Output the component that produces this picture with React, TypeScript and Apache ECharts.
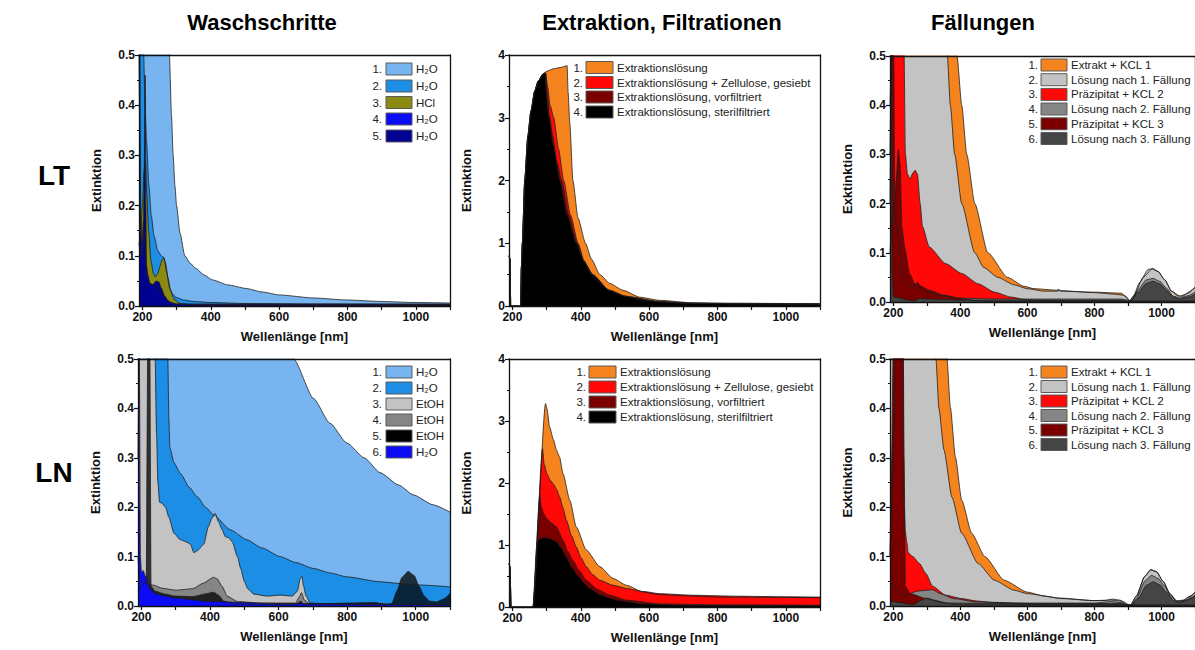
import React, { useEffect, useRef } from "react";
import * as echarts from "echarts";

type Pt = [number, number];

const FONT = '"Liberation Sans", Arial, Helvetica, sans-serif';

// ---------- axes ----------
const X_MIN = 190;
const X_MAX = 1100;
const X_LABELS = [200, 400, 600, 800, 1000];
const X_TICKS = [200, 300, 400, 500, 600, 700, 800, 900, 1000, 1100];

const COLUMN_TITLES = ["Waschschritte", "Extraktion, Filtrationen", "Fällungen"];
const ROW_LABELS = ["LT", "LN"];

// ---------- legend texts ----------
const LEG_LT_WASCH = ["H₂O", "H₂O", "HCl", "H₂O", "H₂O"];
const LEG_EXTR = [
  "Extraktionslösung",
  "Extraktionslösung + Zellulose, gesiebt",
  "Extraktionslösung, vorfiltriert",
  "Extraktionslösung, sterilfiltriert",
];
const LEG_FAELL = [
  "Extrakt + KCL 1",
  "Lösung nach 1. Fällung",
  "Präzipitat + KCL 2",
  "Lösung nach 2. Fällung",
  "Präzipitat + KCL 3",
  "Lösung nach 3. Fällung",
];
const LEG_LN_WASCH = ["H₂O", "H₂O", "EtOH", "EtOH", "EtOH", "H₂O"];

// ---------- data: LT Waschschritte ----------
const ltWasch1: Pt[] = [[190, 0.9], [200, 1.5], [250, 1.2], [272, 0.7], [279, 0.5], [285, 0.38], [290, 0.3], [295, 0.24], [300, 0.2], [310, 0.145], [324, 0.1], [340, 0.085], [356, 0.075], [380, 0.062], [405, 0.052], [450, 0.042], [503, 0.035], [550, 0.028], [601, 0.022], [700, 0.016], [797, 0.012], [900, 0.009], [992, 0.007], [1100, 0.006]];
const ltWasch2: Pt[] = [[190, 0.7], [196, 0.6], [203, 0.52], [207, 0.42], [212, 0.33], [219, 0.24], [226, 0.18], [234, 0.14], [245, 0.11], [255, 0.1], [263, 0.097], [270, 0.07], [280, 0.035], [290, 0.022], [300, 0.017], [320, 0.012], [350, 0.009], [400, 0.007], [500, 0.005], [700, 0.004], [1100, 0.003]];
const ltWasch3: Pt[] = [[190, 0.12], [195, 0.15], [200, 0.2], [205, 0.27], [209, 0.287], [213, 0.22], [218, 0.15], [225, 0.09], [232, 0.065], [238, 0.058], [245, 0.065], [252, 0.08], [258, 0.093], [263, 0.095], [268, 0.085], [275, 0.055], [283, 0.03], [290, 0.017], [297, 0.011], [310, 0.005], [350, 0.002], [1100, 0.001]];
const ltWasch4: Pt[] = [[190, 0.5], [194, 0.2], [198, 0.12], [203, 0.17], [207, 0.12], [212, 0.065], [220, 0.045], [240, 0.04], [260, 0.022], [280, 0.008], [300, 0.004], [1100, 0.003]];
const ltWasch5: Pt[] = [[190, 0.6], [192, 0.55], [195, 0.15], [199, 0.1], [203, 0.13], [206, 0.3], [208, 0.46], [210, 0.2], [212, 0.08], [216, 0.062], [222, 0.045], [230, 0.042], [240, 0.05], [248, 0.048], [256, 0.035], [265, 0.02], [275, 0.01], [290, 0.004], [350, 0.003], [1100, 0.004]];

// ---------- data: LT Extraktion ----------
const ltExtr1: Pt[] = [[190, 0.8], [193, 0.75], [195, 0], [224, 0], [226, 0.6], [229, 1.0], [236, 2.0], [245, 2.7], [254, 3.1], [265, 3.42], [275, 3.58], [290, 3.7], [300, 3.74], [320, 3.78], [340, 3.8], [360, 3.83], [363, 3.4], [368, 2.9], [377, 2.0], [392, 1.4], [414, 1.0], [431, 0.75], [456, 0.5], [485, 0.36], [524, 0.25], [573, 0.14], [631, 0.09], [729, 0.05], [850, 0.045], [1000, 0.04], [1100, 0.04]];
const ltExtr2: Pt[] = [[190, 0.8], [193, 0.75], [195, 0], [224, 0], [226, 0.6], [229, 1.0], [236, 2.0], [245, 2.7], [254, 3.1], [265, 3.42], [275, 3.58], [290, 3.7], [297, 3.72], [303, 3.5], [310, 3.2], [321, 3.0], [335, 2.5], [350, 2.0], [370, 1.45], [392, 1.0], [410, 0.72], [431, 0.5], [455, 0.35], [485, 0.25], [530, 0.16], [573, 0.1], [650, 0.055], [800, 0.038], [1100, 0.032]];
const ltExtr3: Pt[] = [[190, 0.8], [193, 0.75], [195, 0], [224, 0], [226, 0.6], [229, 1.0], [236, 2.0], [245, 2.7], [254, 3.1], [265, 3.42], [275, 3.58], [290, 3.7], [297, 3.71], [302, 3.4], [308, 3.05], [318, 2.7], [330, 2.3], [344, 2.0], [365, 1.45], [390, 1.0], [408, 0.72], [433, 0.5], [483, 0.25], [531, 0.155], [627, 0.075], [723, 0.045], [900, 0.036], [1100, 0.031]];
const ltExtr4: Pt[] = [[190, 0.8], [193, 0.75], [195, 0], [224, 0], [226, 0.6], [229, 1.0], [236, 2.0], [245, 2.7], [254, 3.1], [265, 3.42], [275, 3.58], [290, 3.7], [296, 3.7], [300, 3.3], [307, 3.0], [320, 2.55], [339, 2.0], [360, 1.45], [387, 1.0], [410, 0.7], [436, 0.5], [483, 0.25], [531, 0.15], [627, 0.07], [723, 0.04], [900, 0.033], [1100, 0.03]];

// ---------- data: LT Fällungen ----------
const ltFaell1: Pt[] = [[190, 0.6], [380, 0.6], [390, 0.5], [404, 0.4], [419, 0.3], [443, 0.2], [482, 0.1], [541, 0.05], [590, 0.032], [620, 0.027], [690, 0.024], [700, 0.022], [800, 0.02], [880, 0.018], [893, 0.012], [905, 0.003], [920, 0.015], [945, 0.05], [972, 0.067], [990, 0.062], [1010, 0.045], [1030, 0.022], [1055, 0.012], [1080, 0.018], [1100, 0.03]];
const ltFaell2: Pt[] = [[190, 0.4], [200, 0.6], [355, 0.6], [361, 0.5], [370, 0.4], [383, 0.3], [404, 0.2], [443, 0.1], [470, 0.07], [512, 0.05], [560, 0.035], [600, 0.027], [650, 0.022], [690, 0.022], [692, 0.026], [700, 0.023], [800, 0.019], [860, 0.016], [885, 0.014], [893, 0.01], [906, 0.002], [915, 0.01], [935, 0.04], [960, 0.066], [975, 0.068], [990, 0.062], [1010, 0.045], [1030, 0.022], [1050, 0.012], [1065, 0.012], [1080, 0.02], [1100, 0.03]];
const ltFaell3: Pt[] = [[190, 0.2], [195, 0.6], [231, 0.55], [236, 0.3], [242, 0.26], [250, 0.25], [258, 0.262], [265, 0.268], [272, 0.26], [280, 0.2], [287, 0.153], [307, 0.112], [356, 0.078], [404, 0.058], [453, 0.037], [502, 0.02], [551, 0.01], [600, 0.004], [700, 0.002], [1100, 0.002]];
const ltFaell4: Pt[] = [[190, 0.1], [200, 0.2], [210, 0.15], [230, 0.04], [250, 0.03], [265, 0.035], [275, 0.03], [300, 0.02], [350, 0.012], [400, 0.008], [500, 0.006], [700, 0.006], [880, 0.006], [900, 0.004], [910, 0.002], [930, 0.025], [955, 0.045], [975, 0.048], [995, 0.042], [1015, 0.028], [1035, 0.012], [1055, 0.008], [1080, 0.013], [1100, 0.02]];
const ltFaell5: Pt[] = [[190, 0.3], [195, 0.55], [201, 0.55], [204, 0.2], [209, 0.25], [215, 0.31], [220, 0.28], [226, 0.15], [234, 0.11], [248, 0.058], [265, 0.036], [272, 0.04], [280, 0.033], [307, 0.024], [350, 0.014], [400, 0.007], [450, 0.003], [500, 0.001], [1100, 0.001]];
const ltFaell6: Pt[] = [[190, 0.6], [194, 0.55], [197, 0.05], [200, 0.01], [260, 0.002], [280, 0.007], [300, 0.006], [400, 0.004], [880, 0.004], [905, 0.001], [930, 0.02], [955, 0.038], [975, 0.042], [995, 0.037], [1015, 0.024], [1035, 0.01], [1055, 0.006], [1080, 0.01], [1100, 0.016]];

// ---------- data: LN Waschschritte ----------
const lnWasch1: Pt[] = [[190, 2.0], [400, 1.0], [500, 0.75], [580, 0.6], [644, 0.5], [702, 0.42], [750, 0.37], [799, 0.33], [850, 0.3], [896, 0.27], [950, 0.245], [993, 0.225], [1050, 0.205], [1100, 0.19]];
const lnWasch2: Pt[] = [[190, 1.2], [270, 0.8], [277, 0.5], [280, 0.38], [283, 0.32], [295, 0.29], [314, 0.268], [340, 0.24], [363, 0.221], [387, 0.2], [411, 0.184], [460, 0.154], [508, 0.134], [550, 0.118], [605, 0.1], [650, 0.088], [702, 0.076], [750, 0.067], [799, 0.059], [896, 0.049], [993, 0.043], [1100, 0.039]];
const lnWasch3: Pt[] = [[190, 0.3], [195, 0.6], [236, 0.6], [240, 0.5], [244, 0.35], [248, 0.25], [253, 0.21], [260, 0.208], [270, 0.2], [280, 0.18], [295, 0.147], [314, 0.134], [330, 0.13], [343, 0.125], [353, 0.108], [363, 0.112], [382, 0.125], [395, 0.16], [406, 0.178], [415, 0.188], [425, 0.17], [435, 0.155], [445, 0.14], [455, 0.138], [465, 0.13], [480, 0.1], [490, 0.075], [500, 0.05], [510, 0.035], [528, 0.024], [566, 0.02], [605, 0.022], [640, 0.02], [655, 0.03], [663, 0.055], [668, 0.06], [673, 0.04], [680, 0.02], [692, 0.006], [750, 0.004], [900, 0.003], [1100, 0.002]];
const lnWasch4: Pt[] = [[190, 0.1], [195, 0.05], [215, 0.045], [236, 0.042], [260, 0.036], [300, 0.032], [350, 0.035], [380, 0.046], [410, 0.058], [421, 0.055], [435, 0.04], [450, 0.02], [480, 0.009], [550, 0.006], [650, 0.006], [660, 0.018], [667, 0.027], [675, 0.012], [690, 0.005], [800, 0.004], [1100, 0.003]];
const lnWasch5: Pt[] = [[190, 0.03], [214, 0.05], [219, 0.6], [224, 0.6], [228, 0.04], [240, 0.03], [270, 0.024], [300, 0.02], [350, 0.019], [390, 0.025], [410, 0.028], [425, 0.022], [440, 0.01], [470, 0.004], [650, 0.003], [665, 0.01], [672, 0.003], [800, 0.006], [880, 0.007], [900, 0.005], [915, 0.002], [930, 0.005], [945, 0.03], [960, 0.058], [978, 0.07], [995, 0.062], [1010, 0.04], [1025, 0.02], [1040, 0.01], [1060, 0.008], [1080, 0.014], [1100, 0.025]];
const lnWasch6: Pt[] = [[190, 0.6], [194, 0.5], [197, 0.1], [200, 0.068], [205, 0.072], [212, 0.06], [225, 0.035], [240, 0.025], [270, 0.02], [300, 0.016], [400, 0.009], [600, 0.005], [1100, 0.003]];

// ---------- data: LN Extraktion ----------
const lnExtr1: Pt[] = [[190, 0.7], [193, 0.65], [196, 0], [260, 0], [297, 3.28], [301, 3.2], [309, 2.9], [320, 2.7], [329, 2.53], [338, 2.42], [348, 2.15], [368, 1.72], [387, 1.29], [416, 0.92], [456, 0.65], [495, 0.46], [534, 0.35], [583, 0.24], [630, 0.2], [700, 0.18], [800, 0.16], [1100, 0.15]];
const lnExtr2: Pt[] = [[190, 0.7], [193, 0.65], [196, 0], [260, 0], [288, 2.55], [293, 2.3], [301, 2.15], [310, 2.05], [319, 1.99], [329, 1.9], [338, 1.78], [348, 1.6], [358, 1.4], [373, 1.15], [387, 0.97], [400, 0.8], [416, 0.65], [435, 0.52], [456, 0.43], [495, 0.35], [534, 0.3], [583, 0.25], [631, 0.215], [729, 0.19], [850, 0.175], [1000, 0.165], [1100, 0.16]];
const lnExtr3: Pt[] = [[190, 0.7], [193, 0.65], [196, 0], [260, 0], [280, 1.8], [285, 1.6], [292, 1.5], [301, 1.42], [315, 1.35], [329, 1.29], [348, 1.08], [362, 0.9], [377, 0.75], [396, 0.58], [416, 0.43], [450, 0.28], [485, 0.19], [534, 0.11], [631, 0.05], [800, 0.035], [1100, 0.03]];
const lnExtr4: Pt[] = [[190, 0.7], [193, 0.65], [196, 0], [260, 0], [272, 1.05], [282, 1.1], [294, 1.12], [310, 1.1], [329, 1.05], [343, 0.95], [358, 0.8], [375, 0.63], [392, 0.5], [410, 0.38], [426, 0.3], [456, 0.2], [485, 0.14], [514, 0.1], [582, 0.05], [680, 0.03], [850, 0.022], [1100, 0.02]];

// ---------- data: LN Fällungen ----------
const lnFaell1: Pt[] = [[190, 0.6], [350, 0.6], [360, 0.5], [370, 0.403], [385, 0.302], [404, 0.214], [434, 0.147], [473, 0.1], [531, 0.052], [600, 0.028], [650, 0.02], [700, 0.015], [800, 0.011], [850, 0.012], [880, 0.01], [893, 0.004], [906, 0.001], [925, 0.02], [950, 0.06], [968, 0.074], [985, 0.07], [1005, 0.05], [1025, 0.025], [1045, 0.01], [1065, 0.012], [1085, 0.02], [1100, 0.028]];
const lnFaell2: Pt[] = [[190, 0.6], [320, 0.6], [327, 0.5], [336, 0.4], [351, 0.316], [375, 0.22], [404, 0.147], [453, 0.086], [502, 0.052], [560, 0.032], [600, 0.025], [700, 0.016], [794, 0.011], [830, 0.011], [855, 0.014], [875, 0.012], [890, 0.008], [900, 0.003], [908, 0.001], [925, 0.02], [950, 0.06], [968, 0.073], [985, 0.069], [1005, 0.05], [1025, 0.025], [1045, 0.01], [1065, 0.011], [1085, 0.019], [1100, 0.027]];
const lnFaell3: Pt[] = [[190, 0.1], [200, 0.3], [210, 0.6], [228, 0.55], [232, 0.2], [236, 0.15], [240, 0.13], [244, 0.108], [258, 0.1], [278, 0.086], [297, 0.066], [317, 0.04], [356, 0.022], [404, 0.015], [450, 0.01], [500, 0.007], [600, 0.003], [1100, 0.002]];
const lnFaell4: Pt[] = [[190, 0.05], [230, 0.02], [250, 0.025], [270, 0.03], [300, 0.032], [317, 0.033], [340, 0.025], [380, 0.015], [450, 0.008], [600, 0.006], [800, 0.006], [850, 0.009], [880, 0.007], [900, 0.002], [910, 0.001], [925, 0.015], [950, 0.05], [970, 0.062], [990, 0.056], [1010, 0.04], [1030, 0.018], [1050, 0.008], [1070, 0.01], [1090, 0.018], [1100, 0.022]];
const lnFaell5: Pt[] = [[190, 0.1], [195, 0.3], [200, 0.55], [205, 0.7], [229, 0.6], [232, 0.3], [236, 0.04], [250, 0.025], [300, 0.015], [350, 0.006], [400, 0.002], [1100, 0.001]];
const lnFaell6: Pt[] = [[190, 0.01], [260, 0.003], [285, 0.012], [300, 0.016], [320, 0.012], [360, 0.006], [500, 0.005], [880, 0.005], [900, 0.002], [910, 0.001], [930, 0.015], [955, 0.042], [975, 0.049], [995, 0.043], [1015, 0.028], [1035, 0.011], [1055, 0.007], [1080, 0.013], [1100, 0.02]];

// ---------- colours ----------
const C = {
  lightBlue: "#78b4f0",
  midBlue: "#1c8ee6",
  olive: "#8b8b13",
  blue: "#0b0bf5",
  navy: "#020290",
  orange: "#f5841f",
  red: "#ff0808",
  darkRed: "#7a0000",
  black: "#000000",
  lightGrey: "#c3c3c3",
  grey: "#858585",
  darkGrey: "#454545",
};

type SeriesDef = { data: Pt[]; color: string; opacity?: number };
type Panel = {
  box: { left: number; top: number; width: number; height: number };
  ymax: number;
  yint: number;
  yname: string;
  series: SeriesDef[];
  legend: string[];
  leg: { numRight: number; swX: number; swW: number; swH: number; textX: number; rows: number[] };
};

const PANELS: Panel[] = [
  {
    box: { left: 139, top: 55, width: 311, height: 251 },
    ymax: 0.5, yint: 0.1, yname: "Extinktion",
    series: [
      { data: ltWasch1, color: C.lightBlue },
      { data: ltWasch2, color: C.midBlue },
      { data: ltWasch3, color: C.olive },
      { data: ltWasch4, color: C.blue },
      { data: ltWasch5, color: C.navy },
    ],
    legend: LEG_LT_WASCH,
    leg: { numRight: 382, swX: 386, swW: 26, swH: 12, textX: 416, rows: [69, 86, 102.5, 119, 136] },
  },
  {
    box: { left: 509, top: 55, width: 311, height: 251 },
    ymax: 4, yint: 1, yname: "Extinktion",
    series: [
      { data: ltExtr1, color: C.orange },
      { data: ltExtr2, color: C.red },
      { data: ltExtr3, color: C.darkRed },
      { data: ltExtr4, color: C.black },
    ],
    legend: LEG_EXTR,
    leg: { numRight: 583, swX: 586, swW: 27, swH: 12, textX: 617, rows: [67.5, 82.5, 97, 112] },
  },
  {
    box: { left: 890, top: 56, width: 305, height: 246 },
    ymax: 0.5, yint: 0.1, yname: "Exktinktion",
    series: [
      { data: ltFaell1, color: C.orange },
      { data: ltFaell2, color: C.lightGrey },
      { data: ltFaell3, color: C.red },
      { data: ltFaell4, color: C.grey },
      { data: ltFaell5, color: C.darkRed },
      { data: ltFaell6, color: C.darkGrey },
    ],
    legend: LEG_FAELL,
    leg: { numRight: 1038, swX: 1041, swW: 26, swH: 12, textX: 1071, rows: [65, 79.7, 94.4, 109, 123.8, 138.5] },
  },
  {
    box: { left: 138, top: 359, width: 312, height: 247 },
    ymax: 0.5, yint: 0.1, yname: "Extinktion",
    series: [
      { data: lnWasch1, color: C.lightBlue },
      { data: lnWasch2, color: C.midBlue },
      { data: lnWasch3, color: C.lightGrey },
      { data: lnWasch4, color: C.grey },
      { data: lnWasch5, color: C.black, opacity: 0.75 },
      { data: lnWasch6, color: C.blue },
    ],
    legend: LEG_LN_WASCH,
    leg: { numRight: 382, swX: 386, swW: 26, swH: 12, textX: 416, rows: [372, 388, 404, 420, 436, 452] },
  },
  {
    box: { left: 509, top: 359, width: 311, height: 248 },
    ymax: 4, yint: 1, yname: "Extinktion",
    series: [
      { data: lnExtr1, color: C.orange },
      { data: lnExtr2, color: C.red },
      { data: lnExtr3, color: C.darkRed },
      { data: lnExtr4, color: C.black },
    ],
    legend: LEG_EXTR,
    leg: { numRight: 586, swX: 589, swW: 27, swH: 12, textX: 620, rows: [372, 387, 402, 417] },
  },
  {
    box: { left: 890, top: 359, width: 305, height: 247 },
    ymax: 0.5, yint: 0.1, yname: "Exktinktion",
    series: [
      { data: lnFaell1, color: C.orange },
      { data: lnFaell2, color: C.lightGrey },
      { data: lnFaell3, color: C.red },
      { data: lnFaell4, color: C.grey },
      { data: lnFaell5, color: C.darkRed },
      { data: lnFaell6, color: C.darkGrey },
    ],
    legend: LEG_FAELL,
    leg: { numRight: 1038, swX: 1041, swW: 26, swH: 12, textX: 1071, rows: [372, 386.5, 401, 415.5, 430, 444.5] },
  },
];

const TITLE_POS = [262, 662, 983];
const ROW_POS = [175, 472];

function buildOption() {
  const grid: any[] = [];
  const xAxis: any[] = [];
  const yAxis: any[] = [];
  const series: any[] = [];
  const graphic: any[] = [];
  const axisColor = "#111";
  const tickLabel = { fontFamily: FONT, fontWeight: "bold", fontSize: 12, color: "#111" };

  PANELS.forEach((p, i) => {
    grid.push({ ...p.box, containLabel: false, outerBoundsMode: "none", show: false });
    xAxis.push({
      gridIndex: i, type: "value", min: X_MIN, max: X_MAX, position: "bottom",
      name: "Wellenlänge [nm]", nameLocation: "middle", nameGap: 24,
      nameTextStyle: { fontFamily: FONT, fontWeight: "bold", fontSize: 13, color: "#111" },
      axisLine: { show: true, onZero: false, lineStyle: { color: axisColor, width: 1.3 } },
      axisTick: { show: true, customValues: X_TICKS, length: 4, lineStyle: { color: axisColor, width: 1.2 } },
      axisLabel: { customValues: X_LABELS, margin: 5, ...tickLabel, formatter: (v: number) => String(v) },
      splitLine: { show: false }, z: 10,
    });
    xAxis.push({
      gridIndex: i, type: "value", min: X_MIN, max: X_MAX, position: "top",
      axisLine: { show: true, onZero: false, lineStyle: { color: axisColor, width: 1.3 } },
      axisTick: { show: false }, axisLabel: { show: false }, splitLine: { show: false }, z: 10,
    });
    yAxis.push({
      gridIndex: i, type: "value", min: 0, max: p.ymax, interval: p.yint, position: "left",
      name: p.yname, nameLocation: "middle", nameGap: 36, nameRotate: 90,
      nameTextStyle: { fontFamily: FONT, fontWeight: "bold", fontSize: 13, color: "#111" },
      axisLine: { show: true, onZero: false, lineStyle: { color: axisColor, width: 1.3 } },
      axisTick: { show: true, length: 4, lineStyle: { color: axisColor, width: 1.2 } },
      minorTick: { show: true, splitNumber: 2, length: 2, lineStyle: { color: axisColor, width: 1 } },
      axisLabel: {
        margin: 4, ...tickLabel,
        formatter: (v: number) => (p.ymax < 1 ? v.toFixed(1) : String(Math.round(v))),
      },
      splitLine: { show: false }, minorSplitLine: { show: false }, z: 10,
    });
    yAxis.push({
      gridIndex: i, type: "value", min: 0, max: p.ymax, position: "right",
      axisLine: { show: true, onZero: false, lineStyle: { color: axisColor, width: 1.3 } },
      axisTick: { show: false }, axisLabel: { show: false }, splitLine: { show: false }, z: 10,
    });

    p.series.forEach((s, k) => {
      series.push({
        type: "line",
        name: p.legend[k],
        xAxisIndex: 2 * i,
        yAxisIndex: 2 * i,
        data: s.data,
        symbol: "none",
        smooth: 0.2,
        smoothMonotone: "x",
        clip: true,
        silent: true,
        z: 2,
        lineStyle: { color: "#1e1e1e", width: 0.8 },
        areaStyle: { color: s.color, opacity: s.opacity ?? 1 },
        emphasis: { disabled: true },
      });
    });

    p.legend.forEach((label, k) => {
      const y = p.leg.rows[k];
      graphic.push({
        type: "text", x: p.leg.numRight, y, silent: true,
        style: {
          text: `${k + 1}.`, fill: "#222", fontFamily: FONT, fontSize: 11.5,
          align: "right", verticalAlign: "middle", textAlign: "right", textVerticalAlign: "middle",
        },
      });
      graphic.push({
        type: "rect", silent: true,
        shape: { x: p.leg.swX, y: y - p.leg.swH / 2, width: p.leg.swW, height: p.leg.swH },
        style: { fill: p.series[k].color, stroke: "#5a5a5a", lineWidth: 1, opacity: 1 },
      });
      graphic.push({
        type: "text", x: p.leg.textX, y, silent: true,
        style: {
          text: label, fill: "#222", fontFamily: FONT, fontSize: 11.5,
          align: "left", verticalAlign: "middle", textAlign: "left", textVerticalAlign: "middle",
        },
      });
    });
  });

  COLUMN_TITLES.forEach((t, i) => {
    graphic.push({
      type: "text", x: TITLE_POS[i], y: 22, silent: true,
      style: {
        text: t, fill: "#000", fontFamily: FONT, fontSize: 22, fontWeight: "bold",
        align: "center", verticalAlign: "middle", textAlign: "center", textVerticalAlign: "middle",
      },
    });
  });
  ROW_LABELS.forEach((t, i) => {
    graphic.push({
      type: "text", x: 54, y: ROW_POS[i], silent: true,
      style: {
        text: t, fill: "#000", fontFamily: FONT, fontSize: 28, fontWeight: "bold",
        align: "center", verticalAlign: "middle", textAlign: "center", textVerticalAlign: "middle",
      },
    });
  });

  return {
    animation: false,
    backgroundColor: "#ffffff",
    grid,
    xAxis,
    yAxis,
    series,
    graphic: { elements: graphic },
  };
}

export default function App() {
  const ref = useRef<HTMLDivElement>(null);
  useEffect(() => {
    if (!ref.current) return;
    const chart = echarts.init(ref.current, undefined, { renderer: "svg" });
    chart.setOption(buildOption() as any);
    return () => chart.dispose();
  }, []);
  return (
    <div
      ref={ref}
      style={{ position: "absolute", left: 0, top: 0, width: 1195, height: 650, background: "#fff" }}
    />
  );
}
